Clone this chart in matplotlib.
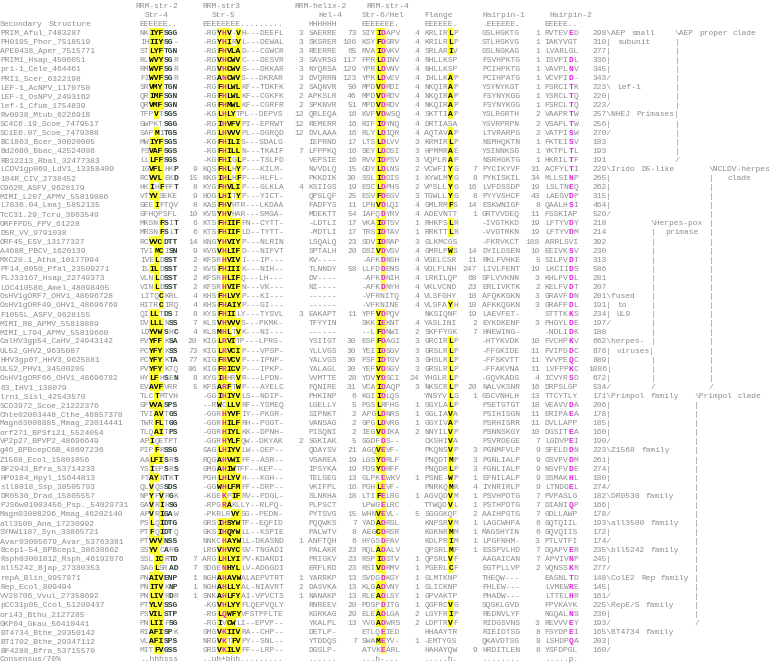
import matplotlib
matplotlib.use("Agg")
import matplotlib.pyplot as plt
from matplotlib.patches import Rectangle
from matplotlib.collections import PatchCollection

# markup in the block strings: lowercase = yellow shaded hydrophobic,
# "!X" = magenta residue, "_X" = dark (small residue)
names = [
    "PRIM_Aful_7483287", "PH0195_Phor_7518519", "APE0438_Aper_7515771", "PRIM1_Hsap_4506051",
    "pri-1_Cele_464461", "PRI1_Scer_6322198", "LEF-1_AcNPV_1170750", "LEF-1_OsNPV_2493162",
    "lef-1_Cfum_1754839", "Rv0938_Mtub_6226918", "SC4C6.19_Scoe_7479517", "SC1E6.07_Scoe_7479388",
    "BC1863_Bcer_30020005", "Bd2680_Bbac_42524098", "RB12213_Rbal_32477383", "LCDV1gp069_LdV1_13358409",
    "184R_CIV_2738452", "C962R_ASFV_9628179", "MIMI_L207_APMV_55819086", "L7836.04_Lmaj_5852135",
    "TcC31.29_Tcru_3063549", "ORFFPD5_FPV_61228", "D5R_VV_9791038", "ORF45_ESV_13177327",
    "A468R_PBCV_1620139", "MXC20.1_Atha_10177094", "PF14_0050_Pfal_23509271", "FLJ33167_Hsap_22749373",
    "LOC410586_Amel_48098405", "OsHV1gORF7_OHV1_48696728", "OsHV1gORF49_OHV1_48696769", "F1055L_ASFV_9628155",
    "MIMI_R8_APMV_55818889", "MIMI_L794_APMV_55819660", "CalHV3gp54_CaHV_24943142", "UL52_GHV2_9635087",
    "HHV3gp07_HHV3_9625881", "UL52_PHV1_34500205", "OsHV1gORF66_OHV1_48696782", "63_IHV1_138079",
    "lrni_Sisl_42543570", "SCO3972_Scoe_21222376", "Chte02003448_Cthe_48857378", "Magn03008885_Mmag_23014441",
    "orf271_BPSfi21_5524054", "VP2p27_BPVP2_48696649", "g46_BPBcepC6B_48697236", "Z1568_Ecol_15801056",
    "BF2943_Bfra_53714233", "HP0184_Hpyl_15644813", "sll8018_Ssp_38505793", "DR0530_Drad_15805557",
    "PJS6w01003456_Psp._54029731", "Magn03008296_Mmag_46202140", "all3500_Ana_17230992", "SYNW1187_Syn_33865721",
    "Avar03005679_Avar_53763381", "Bcep1-54_BPBcep1_38638662", "Rsph03001812_Rsph_46192876", "bll5242_Bjap_27380353",
    "repA_Blin_9957871", "Rep_Ecol_809494", "VV20706_Vvul_27358692", "pCC31p05_Ccol_51209437",
    "ori43_Bthu_2127285", "GKP04_Gkau_56410441", "BT4734_Bthe_29350142", "BT1702_Bthe_29347112",
    "BF4288_Bfra_53715570",
]

str4 = [
    "NKiyf_S_G_G", "IHiiy_S_G-", "STlyf_T_G_N", "RLwvy_S_GR", "RMwvf_S_GR", "FIwvf_S_GR", "SRvmy_T_G_N",
    "QRimf_S_G_N", "QRvmf_S_G_N", "TFPvT_S_G_S", "GWPKT_S_G_G", "SAPmI_T_G_S", "MWiyf_S_G_S", "FSvaf_S_G_S",
    "LLlff_S_G_S", "IGvflHK_P", "RCvvlEK_D", "HKiHfFF_T", "VTyvSEKE", "GEEiFTQV", "GFHQPSFL",
    "MKSNf_SI_T", "MRSNf_SL_T", "RCvvc_D_T_T", "TVImcI_S_N", "IVElD_S_S_T", "ILilD_S_S_T", "VLNlD_S_S_T",
    "VINlD_S_S_T", "LITQcKRL", "HITRcIRQ", "QIllT_D_SI", "DVlllN_S_S", "LDyvw_SH_C", "PVyffK_S_A",
    "PCyfyK_S_S", "PCyfyK_T_A", "PVyfyKTQ", "HYlfH_SE_N", "EVavfVRR", "TLCtMTVH", "GFvva_S_P_S",
    "TVIavT_G_S", "TWRflT_G_G", "TLQaiT_P_S", "APiQETPT", "PIPfR_S_S_G", "AAlfi_SR_S", "YSiEP_SR_S",
    "FTayN_TK_T", "QLvQS_S_D_S", "NPyFvR_GK", "GAvRiH_S_G", "APvRi_G_AW", "PSlQi_D_T_G", "PTfQi_D_TQ",
    "PTvvv_N_S_S", "SSyvC_AR_G", "SSLicR_T_D", "SAGlSR_A_D", "PNaiv_E_N_P", "PNitvK_N_P", "PNlivR_DR",
    "PTylv_S_S_G", "PSvil_S_T_P", "PNliiF_S_G", "RIafi_S_PK", "VLafi_S_P_S", "MITfv_G_S_S",
]
gap1 = [""] * 15 + ["9", "15", "8", "9", "8", "10", "6", "6", "14", "9", "2", "2", "2", "2", "4", "4",
                    "8", "7", "4", "20", "73", "77", "96", "8", "5"] + [""] * 18 + ["7", "7", "1", "1", "1"] + [""] * 6

str5 = [
    "-RGy!Hv-vH---DEEFL", "-RGy!HiRvL---DEWAL", "-RGf!HvlaD---CGWCR", "-RGv!HcwvC---DESVR", "-RGv!HcwvG---DKKAR",
    "-RGa!NcwvS---DKRAR", "-RGf!HlwlKF--TDKFK", "-RGf!HlwlKF--CGKFK", "-RGf!HmwlKF--CGRFR", "-KGl!HlyTPL--DEPVS",
    "-RGi!HvfvPI--EPRWT", "-RGl!HvvvPL--DGRQD", "-KGf!HiliS---SDALG", "-KGf!HillN---TKAIF", "-KGf!HiGlP---TSLFD",
    "KQSf!HlHyP---KILM-", "KKGi!HlHfP---HLFL-", "KYGf!HvliP---GLKLA", "HDGl!HiTyP---YICT-", "KASf!HvHTR---LKDAA",
    "KVSy!HvHAR---SMGA-", "KTSf!HiifFN--CYTT-", "KTSf!HiifLD--TYTT-", "KNGy!HviyP---NLRIN", "KVGv!HlifD---NIFVT",
    "KFSR!HvivI---IP---", "KVSf!HiiiK---NIH--", "KFSR!HlifQ---LH---", "KFSR!HvifN---VK---", "KHSf!HlvyP---KI---",
    "KHSf!HaiyP---GI---", "KYSf!HiiLY---TYSVL", "KLSv!HvvvS---PKMK-", "KLSm!HlTvK---NI---", "KIGl!RviTP---LPRG-",
    "KIGl!RvciP---VPSP-", "KIGf!RvcvP---IPNP-", "KIGf!RicvP---IPKP-", "KYGi!HHRvR---LPDN-", "KFSa!RfTwP---AYELC",
    "-GGi!HiyvLS--NDIP-", "--RwCllvRF--YSMEQ", "-GGR!HyvfIY--PKGR-", "-GGR!HilfRH--PGGT-", "-GGR!HiylKK--DPNH-",
    "-GGR!HylfQW--DKYAK", "GAGl!HiyvLW--DEP--", "RQGa!HvwiFF--ASR--", "GMGa!HiwTFF--KEP--", "PGHl!HlyvH---KGH--",
    "-GGw!HlfmFF--DRP--", "-KGE!KPifRV--PDGL-", "-RPG!RaKLLY--RLPQ-", "-PKRLRvySG--PEDN-", "GRSi!HsywTF--EQFID",
    "GKSi!HqywLL--KSPIE", "NNKC!HaywLL-DKASND", "LRGv!HvycGV-TNGADI", "ARGl!HlyiPV-KDARDI", "SDGE!NhylLV-ADGGDI",
    "NGHa!HavwALAEPVTRT", "NGHa!HllyAL-NIAVRT", "SNKa!HlfyAI-VPVCTS", "-KGv!HlyyFLQEPVQLY", "-RGl!QwfyVFSTPFLTE",
    "-RGiVcwLI--EPVP--", "GMGv!KiivRA--CHP--", "NRGv!KTfvPY--SNL--", "GRSv!KilvFF--LRP--",
]
gap2 = ["3", "3", "3", "3", "3", "3", "2", "2", "2", "12", "12", "12", "", "7", "", "", "", "4", "", "",
        "", "", "", "", "", "", "", "", "", "", "", "3", "", "", "", "", "", "", "", "",
        "", "", "", "", "", "2", "", "", "", "", "", "", "", "", "", "", "1", "", "", "",
        "1", "2", "1", "", "", "", "", "", ""]

hel4 = [
    "SAERRE", "SKSRER", "REERRE", "SAVRSG", "NYQRSA", "DVQRRN", "SAQNVR", "APKSLR", "SPKNVR", "QRLEQA",
    "REMERR", "DVLAAA", "IEPRND", "LFPPKQ", "VEPSIE", "NVVDLQ", "PKKDIK", "KSIIGS", "QPSLQF", "FADFYS",
    "MDEKTT", "-LDTLI", "-MDTLI", "LSQALQ", "SPTALH", "KV----", "TLNNDY", "DV----", "NI----", "------",
    "------", "EAKAPT", "TFYYIN", "------", "YSIIGT", "YLLVGS", "YALVGS", "YALAGL", "VVMTTE", "FQNIRE",
    "PHKINP", "LGELLY", "SIPNKT", "VANSAG", "PISQNI", "SGKIAK", "QDAYSV", "VSAREA", "IPSYKA", "TELGEG",
    "VKIFPL", "SLNRHA", "PLPSCT", "PYTSVG", "PQQWKS", "PALWTV", "ANFTQH", "PALAKR", "PRIGKV", "ERFLRD",
    "YARRKP", "DASVKA", "NANAKP", "RNREEV", "KGRKAG", "YKALPL", "DETLP-", "YTDDQS", "DGSLP-",
]
gap3 = ["73", "106", "65", "117", "129", "123", "50", "46", "51", "16", "16", "16", "17", "16", "16", "15",
        "30", "19", "25", "11", "54", "17", "17", "23", "20", "", "58", "", "", "", "", "11", "", "",
        "30", "30", "30", "30", "28", "31", "6", "5", "2", "2", "2", "5", "21", "19", "19", "13", "16",
        "18", "", "15", "7", "8", "6", "23", "23", "23", "13", "13", "13", "20", "29", "13", "", "7", ""]

str6 = [
    "SIYi!DAPV", "KSYf!DGRV", "RVAi!DVKV", "FPRl!DINV", "YPRl!DVNV", "YPKl!DVEV", "MPDv!DRDI", "MPDv!DRDV",
    "MPDv!DRDV", "KVFv!DWSQ", "RIFi!DYNQ", "RLYl!DIQR", "LTSl!DLVV", "SEYl!DDSI", "RVVi!DPSV", "GDYl!DLNS",
    "SSLi!DDIS", "ESCl!DPHS", "ESVf!DEGV", "LPNv!DLQI", "IAFQ!DYRV", "VKAi!DTSV", "TRSi!DTAV", "SDVi!DRAP",
    "DSIv!DVSV", "-AFK!DNSH", "LLFD!DENS", "-AFK!DNIH", "-AFK!DNYH", "-VFRNITQ", "-VFKNINE", "YPFv!DPQV",
    "SKKi!EKNT", "--Lf!DNWI", "ESFf!DAGI", "YEIi!DSGV", "FSFi!DTGV", "YEFv!DSGV", "YDVy!DSCI", "VCAi!DAQP",
    "KGIi!DLQS", "PGSlRFHG", "APGl!DNRS", "GPGl!DVRG", "IEGv!DIKA", "GGDF!DS--", "AGQv!EVF-", "LGSy!DRLF",
    "FDSy!DRFF", "GLPK!EWKV", "PGHl!EVF-", "LTIf!ELRG", "LPWG!ELRC", "WHNv!EVL-", "YADa!DRSL", "AEGc!DRSR",
    "HYGS!DPAV", "RQLa!DALV", "RSPi!DSTV", "RSIv!DRMV", "SVDG!DKGY", "KLGa!DVNY", "RLEa!DLSY", "PDSP!DITG",
    "ELEa!DLGA", "YVGa!DWRS", "ETLQ!EIED", "SWAm!EYV-", "ATVK!EARL",
]
gap4 = ["4"] * 12 + ["3", "3", "3", "2", "1", "2", "3", "4", "4", "1", "1", "3", "4", "4", "4", "4", "4",
                     "4", "4", "", "4", "2", "3", "3", "3", "3", "24", "3", "", "1", "1", "1", "2", "",
                     "", "", "", "1", "", "1", "", "5", "", "", "", "", "1", "1", "1", "1", "1", "1", "2",
                     "2", "", "1", "", "1"]

flange = [
    "KRLIRlP", "KRILRlP", "SRLARiV", "NHLLKSP", "NHLLKSP", "IHLLKaP", "NKQIRaP", "NKQIRaP", "NKQIRaP",
    "SKTTIaP", "DRTIASA", "AQTAVaP", "KRMIRlP", "HPMMRaE", "VQPLRaP", "VCWFIyG", "KYWLMyG", "VPSLLyG",
    "TGWLLyG", "GMLRMfS", "ADEVNTT", "RHKPSlR", "RRKTTlR", "GLKMCGS", "GMRLPwS", "VGELCSR", "VDLFLNH",
    "LRKILQP", "VKLVCND", "VLSFGHY", "VLSFAyH", "NKSIQNF", "YASLINI", "SKFFYGK", "GRCIRlP", "GRSLRlP",
    "GHSLRlP", "GRSLRlP", "YHGLRlP", "NKSCRlP", "YNSYVlG", "GGYLAlP", "GGLIAvA", "GGYIVaP", "NNYILvP",
    "CKSHIvA", "PKQNSvP", "PNQDTmP", "PNQDRlP", "PSNE-wP", "PNRKQmK", "AGVQDvM", "TTWQDvL", "SGGGKQF",
    "KNPSRvM", "KGKNRmM", "KDLPRiM", "QPSRLmF", "QPSRLvF", "PGERLcF", "GLMTKNP", "GLICKNP", "GPVAKTP",
    "QGFRCvG", "LGYFRiP", "LDPTRvF", "HHAAYTR", "-EMTYGS", "HAHAYQW",
]
gap5 = [""] * 15 + ["7", "8", "16", "8", "14", "1", "", "", "", "14", "11", "247", "68", "23", "10", "10",
                    "19", "2", "7", "", "", "", "", "", "20", "1", "", "", "", "", "", "3", "3", "3",
                    "1", "4", "1", "1", "2", "1", "1", "1", "1", "", "", "", "", "", "", "", "", "", "", "9",
                    "9", "12"]

hp1 = [
    "GSLHGKTG", "STLHSKVG", "GSLNGKAG", "FSVHPKTG", "PCIHPKTG", "PCIHPATG", "YSYNYKGT", "FSYNYKGG",
    "FSYNYKGG", "YSLRGRTH", "YSVRPRPN", "LTVRARPG", "NSMHQKTN", "YSINNKSG", "NSRHGKTG", "PYCIKYVF",
    "PYKISKIL", "LVFDSSDP", "PYYVSHCF", "ESKWNIGF", "GRTVVDEQ", "-IVGTKKD", "-VVGTRKN", "-FKRVKCT",
    "DYILDSEN", "RKLFVHKE", "LIVLFENT", "SFLVVKNN", "ERLIVKTK", "AFQKKGKN", "AFKKQGKN", "LAEVFET-",
    "EYKDKENF", "HNEWING-", "-HTYKVDK", "-FFGKIDE", "-FFSKVTT", "-FFAKVNA", "-GQVKADG", "NALVKSNR",
    "GSCVNHLH", "PSETGTGT", "PSIHISGN", "PSRHISRR", "PSNNSKGY", "PSVRDEGE", "PGNMFVLP", "PGNLIALP",
    "FGNLIALP", "EFNILALP", "IYNRIRLP", "PSVHPDTG", "PSTHPDTG", "AAIHPGTG", "LAGCWHFA", "MAGSHYIN",
    "LPGFNHM-", "ESSPVLHD", "AAGAICAN", "EGTPLLVP", "THEQW---", "FHLEW---", "PHADW---", "SQSKLGVD",
    "REDNVLYF", "RIDGSVNS", "RIEIDTSG", "QKAVDTSG", "HRDITLEN",
]
gap6 = ["1"] * 9 + ["2", "2", "2", "1", "1", "1", "31", "34", "19", "43", "8", "11", "19", "19", "188",
                    "10", "5", "19", "3", "2", "3", "3", "", "3", "", "10", "11", "11", "11", "4", "16",
                    "13", "18", "11", "11", "10", "7", "9", "9", "9", "9", "9", "7", "7", "7", "6", "6",
                    "3", "7", "7", "2", "", "", "", "", "", "3", "8", "8", "8"]

hp2 = [
    "RVTEV!ED", "IAKYVGT", "LVARLGL", "ISVPI!DL", "VAVPL!NV", "VCVPI!D-", "FSRCI!TK", "YSRCL!TQ",
    "FSRCL!TQ", "VAAPR!TW", "VSAPL!TW", "VATPI!SW", "FKTEI!SV", "YKTPL!TL", "HKRIL!TF", "ACFYL!TI",
    "MLLSI!NP", "LSLTN!EQ", "LAEGV!DP", "QAALH!SI", "FSSKIAP", "LFTYV!DY", "LFTYV!DM", "ARRLSVI",
    "EEIVK!SV", "SILFV!DT", "LKCII!DS", "KHLFV!DL", "KELFV!DT", "GRAVF!DN", "GRAFF!DL", "STTTK!KS",
    "PHGYL!DE", "-NDLI!DK", "FVCHP!KV", "FVIPD!DC", "YVVPE!QC", "LVFPP!KC", "ICVYR!SD", "DRPSLGP",
    "TTCYTLY", "VEAVV!DA", "ERIPA!EA", "DVLLAPP", "DGSIT!EA", "LGDVP!EI", "SFELD!DN", "GSVFV!DM",
    "NSVFV!DE", "SSMAK!HL", "LTNDG!EL", "PVPASLG", "DIANI!QP", "GDLLAWP", "GQTQIIL", "GQVQIIS",
    "PTLVTFI", "DQAFV!ER", "APVIV!NP", "VQNSS!KR", "EASNL!TD", "LVMEW!RE", "LTTEL!HR", "FPVKAYK",
    "NGQAL!NS", "REVVV!EY", "FSYDP!EI", "LSHDP!QA", "YSFDPGL",
]
lengths = [
    "298", "310", "277", "336", "345", "343", "223", "220", "223", "257", "256", "270", "183", "193",
    "191", "229", "265", "262", "315", "464", "520", "218", "214", "392", "230", "313", "586", "281",
    "207", "201", "191", "234", "197", "188", "662", "876", "889", "1086", "672", "534", "171", "206",
    "178", "185", "160", "190", "223", "261", "274", "180", "274", "182", "166", "178", "193", "172",
    "174", "235", "245", "277", "148", "145", "161", "225", "230", "193", "165", "203", "160",
]

consensus = ["Consensus/70%", "..hhhsss", "..uh+bhh.........", "......", "...h-...",
             ".....h.", "........", ".....p."]

# families: first row, last row, label lines
families = [
    (0, 5, ["AEP small", " subunit"]), (6, 8, [" Lef-1"]), (9, 11, ["NHEJ Primases"]),
    (15, 20, ["Irido D5-like"]), (29, 32, ["fused", " to", " UL9"]), (34, 39, ["herpes-", " viruses"]),
    (40, 45, ["Primpol family"]), (46, 50, ["Z1568 family"]), (51, 53, ["DR0530 family"]),
    (54, 56, ["all3500 family"]), (57, 59, ["bll5242 family"]), (60, 62, ["ColE2 Rep family"]),
    (63, 65, ["RepE/S family"]), (66, 68, ["BT4734 family"]),
]
clades = [
    (0, 14, 140, ["AEP proper clade"]), (15, 39, 147, ["NCLDV-herpes", "   clade"]),
    (21, 39, 135, ["Herpes-pox", "  primase"]), (40, 65, 144, ["Primpol clade"]),
]

header_top = [(28, "RRM-str-2"), (42, "RRM-str3"), (61, "RRM-helix-2"), (76, "RRM-str-4")]
header_mid = [(30, "Str-4"), (44, "Str-5"), (66, "Hel-4"), (75, "Str-6/Hel"), (88, "Flange"),
              (100, "Hairpin-1"), (114, "Hairpin-2")]
sec_struct = [(0, "Secondary Structure"), (29, "EEEEEE.."), (42, "EEEEEEEE........."), (64, "HHHHHH"),
              (75, "EEEEEEE."), (88, "EEEEEE."), (100, ".EEEEEE."), (113, "EEEEE..")]

CW = 4.82      # character cell width, px
LH = 9.08      # line pitch, px
Y0 = 5.0
FS = CW / 0.6 * 72 / 100
FONT = "Liberation Mono"
NCOL = 162
GRAY, YEL, MAG, DARK = "#8c8c8c", "#ffff30", "#e81ee8", "#2d4438"


def parse(s, plain=False, shade_mag=False):
    out, mode = [], None
    for ch in s:
        if not plain and ch in "!_" and mode is None:
            mode = "m" if ch == "!" else "d"
            continue
        if mode:
            if mode == "m" and shade_mag:
                mode = "M"
            out.append((ch, mode))
            mode = None
        elif not plain and ch.islower():
            out.append((ch.upper(), "y"))
        else:
            out.append((ch, "n"))
    return out


def put(line, col, s, plain=True, shade_mag=False):
    for i, item in enumerate(parse(s, plain, shade_mag)):
        if 0 <= col + i < NCOL:
            line[col + i] = item


def put_num(line, end, s):
    put(line, end - len(s) + 1, s)


lines = []
for hdr in (header_top, header_mid, sec_struct):
    ln = [(" ", "n")] * NCOL
    for c, t in hdr:
        put(ln, c, t)
    lines.append(ln)

nrows = len(names)
for r in range(nrows):
    ln = [(" ", "n")] * NCOL
    put(ln, 0, names[r])
    put(ln, 29, str4[r], False)
    put_num(ln, 40, gap1[r])
    put(ln, 42, str5[r], False, True)
    put_num(ln, 62, gap2[r])
    put(ln, 64, hel4[r])
    put_num(ln, 73, gap3[r])
    put(ln, 75, str6[r], False, True)
    put_num(ln, 86, gap4[r])
    put(ln, 88, flange[r], False)
    put_num(ln, 98, gap5[r])
    put(ln, 100, hp1[r])
    put_num(ln, 111, gap6[r])
    put(ln, 113, hp2[r], False)
    put_num(ln, 125, lengths[r])
    lines.append(ln)


def bracket(first, last, col, labels):
    for r in range(first, last + 1):
        i = r - first
        if i == 0:
            txt = "\\" + labels[0]
        elif r == last:
            txt = "/"
        else:
            txt = "|" + (labels[i] if i < len(labels) else "")
        put(lines[3 + r], col, txt)


for first, last, labels in families:
    bracket(first, last, 126, labels)
for first, last, col, labels in clades:
    bracket(first, last, col, labels)

ln = [(" ", "n")] * NCOL
for c, t in zip([0, 29, 42, 64, 75, 88, 100, 113], consensus):
    put(ln, c, t)
lines.append(ln)

fig = plt.figure(figsize=(7.72, 6.66), dpi=100)
ax = fig.add_axes([0, 0, 1, 1])
ax.set_xlim(0, 772)
ax.set_ylim(666, 0)
ax.axis("off")

styles = {"n": (GRAY, "normal"), "y": ("black", "bold"), "m": (MAG, "bold"),
          "M": (MAG, "bold"), "d": (DARK, "bold")}
rects = []
for row, ln in enumerate(lines):
    yc = Y0 + row * LH
    base = yc + 2.5
    c = 0
    while c < NCOL:
        ch, st = ln[c]
        if ch == " ":
            c += 1
            continue
        start = c
        while c < NCOL and ln[c][0] != " " and ln[c][1] == st:
            c += 1
        txt = "".join(x[0] for x in ln[start:c])
        if st in ("y", "M"):
            for k in range(start, c):
                rects.append(Rectangle((k * CW - 0.1, yc - LH / 2 - 0.1), CW + 0.2, LH + 0.2))
        color, weight = styles[st]
        ax.text(start * CW, base, txt, fontsize=FS, family=FONT, color=color,
                fontweight=weight, ha="left", va="baseline", zorder=3)

ax.add_collection(PatchCollection(rects, facecolor=YEL, edgecolor="none", zorder=1))

fig.savefig("out.png", dpi=100)
